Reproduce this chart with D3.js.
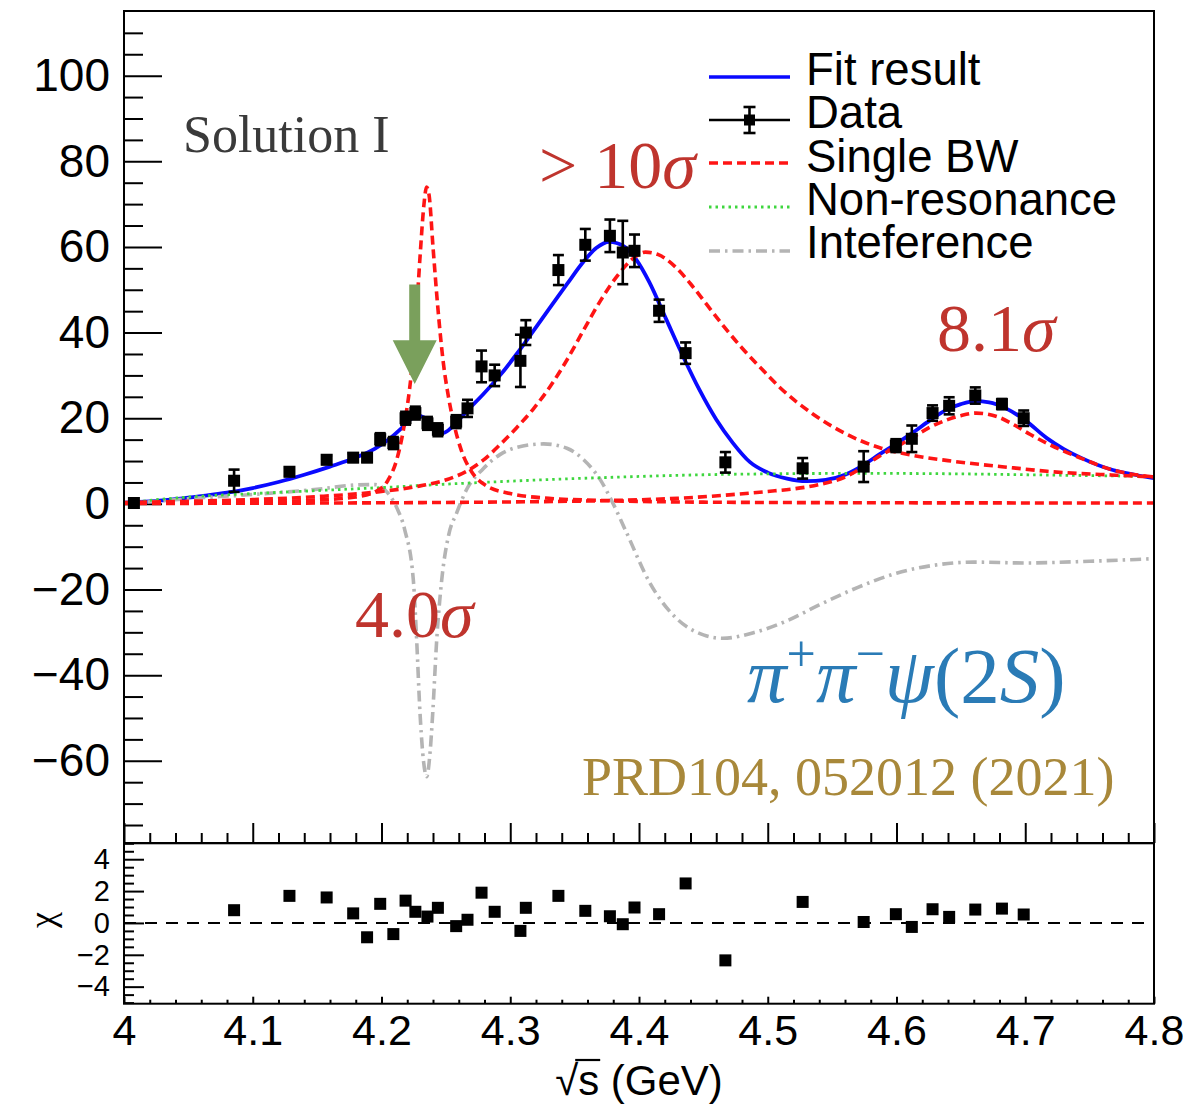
<!DOCTYPE html>
<html>
<head>
<meta charset="utf-8">
<script src="https://cdn.jsdelivr.net/npm/d3@7"></script>
<style>
  html, body { margin: 0; padding: 0; background: #fff; }
  svg { display: block; }
</style>
</head>
<body>
<svg id="chart" width="1183" height="1114"></svg>
<script>
// ---------------- data ----------------
// measured cross section points: energy (GeV), value, error
const sqrtS = [4.0077, 4.0855, 4.1285, 4.1574, 4.1780, 4.1888, 4.1990, 4.2092, 4.2187, 4.2263,
               4.2357, 4.2438, 4.2580, 4.2668, 4.2777, 4.2879, 4.3079, 4.3121, 4.3374, 4.3583,
               4.3774, 4.3874, 4.3965, 4.4156, 4.4362, 4.4671, 4.5271, 4.5745, 4.5995, 4.6119,
               4.6280, 4.6409, 4.6612, 4.6819, 4.6988];
const xsec = [0.2, 5.4, 7.5, 10.3, 10.8, 10.8, 15.1, 14.2, 20.0, 21.2,
              18.8, 17.3, 19.2, 22.3, 32.1, 30.0, 33.4, 40.0, 54.6, 60.5,
              62.6, 58.7, 59.1, 45.1, 35.2, 9.7, 8.3, 8.7, 13.6, 15.2,
              21.2, 22.9, 25.3, 23.3, 20.0];
const xsecErr = [0.3, 2.6, 1.0, 1.0, 1.0, 1.0, 1.4, 1.4, 1.5, 1.5,
                 1.5, 1.5, 1.5, 2.0, 3.7, 2.5, 6.1, 2.9, 3.5, 3.7,
                 3.8, 7.4, 3.8, 2.6, 2.5, 2.4, 2.4, 3.6, 1.5, 3.1,
                 1.8, 2.0, 1.9, 1.2, 1.8];

// fit residuals (chi) for every point after the first
const chiEnergy = sqrtS.slice(1);
const chiValue = [0.8, 1.7, 1.6, 0.6, -0.9, 1.2, -0.7, 1.4, 0.7, 0.4,
                  0.95, -0.2, 0.2, 1.9, 0.7, -0.5, 0.95, 1.7, 0.76, 0.42,
                  -0.08, 0.97, 0.55, 2.48, -2.35, 1.32, 0.06, 0.55, -0.25, 0.86,
                  0.38, 0.84, 0.9, 0.53];

// total fit curve
const fitCurve = [[4.000,0.3],[4.020,0.6],[4.040,1.1],[4.060,1.8],[4.080,2.6],[4.100,3.7],[4.120,5.1],
  [4.140,6.8],[4.160,8.7],[4.180,10.8],[4.195,12.9],[4.205,14.9],[4.215,17.5],[4.222,19.6],[4.228,20.6],
  [4.233,20.2],[4.238,18.6],[4.243,16.9],[4.248,16.6],[4.255,18.0],[4.266,21.6],[4.279,25.6],[4.292,30.0],
  [4.305,35.0],[4.318,40.4],[4.331,45.9],[4.344,51.3],[4.357,56.6],[4.367,59.8],[4.377,61.2],[4.388,60.2],
  [4.398,57.0],[4.408,51.8],[4.421,43.2],[4.434,34.6],[4.447,26.6],[4.460,19.7],[4.473,14.2],[4.486,9.8],
  [4.500,7.3],[4.515,5.9],[4.530,5.3],[4.545,5.6],[4.560,6.8],[4.574,9.0],[4.587,11.6],[4.600,14.1],
  [4.613,16.7],[4.626,19.5],[4.639,22.0],[4.650,23.3],[4.661,24.0],[4.672,23.7],[4.685,22.3],[4.700,19.5],
  [4.717,15.3],[4.730,12.8],[4.743,10.8],[4.768,7.9],[4.785,6.8],[4.800,6.0]];

// single Breit-Wigner components
const bwNarrow = [[4.000,0.2],[4.100,0.5],[4.150,0.9],[4.180,1.6],[4.195,2.8],[4.205,5.5],[4.212,10.5],
  [4.218,19.0],[4.223,30.0],[4.227,44.0],[4.230,58.0],[4.233,70.0],[4.235,74.0],[4.237,72.0],[4.240,60.0],
  [4.244,45.0],[4.248,33.0],[4.252,25.0],[4.256,19.0],[4.262,12.5],[4.270,7.5],[4.280,4.5],[4.300,2.4],
  [4.330,1.3],[4.370,0.8],[4.450,0.4],[4.600,0.25],[4.800,0.2]];
const bwBroad = [[4.000,0.3],[4.050,0.6],[4.100,1.0],[4.150,1.7],[4.200,2.9],[4.230,4.2],[4.253,5.9],
  [4.266,7.6],[4.279,10.2],[4.292,13.8],[4.305,17.8],[4.318,22.2],[4.331,27.4],[4.344,33.6],[4.357,40.6],
  [4.370,47.4],[4.383,53.2],[4.395,57.2],[4.405,58.8],[4.415,58.2],[4.428,55.4],[4.440,51.4],[4.453,46.4],
  [4.466,41.4],[4.480,36.4],[4.495,31.6],[4.510,27.0],[4.535,21.0],[4.561,16.3],[4.587,13.1],[4.613,11.3],
  [4.640,10.1],[4.665,9.2],[4.691,8.4],[4.717,7.6],[4.770,6.7],[4.800,6.3]];
const bwHigh = [[4.000,0.1],[4.100,0.15],[4.200,0.25],[4.300,0.45],[4.380,0.8],[4.430,1.3],[4.470,2.1],
  [4.500,2.9],[4.520,3.5],[4.540,4.5],[4.561,6.4],[4.575,8.8],[4.587,11.2],[4.600,13.3],[4.613,15.6],
  [4.626,17.9],[4.639,19.6],[4.650,20.6],[4.662,21.2],[4.678,20.4],[4.691,18.5],[4.704,16.2],[4.717,14.1],
  [4.743,10.7],[4.768,7.9],[4.800,6.3]];

// non-resonant term
const nonRes = [[4.000,0.0],[4.020,0.8],[4.050,1.6],[4.100,2.4],[4.150,3.1],[4.200,3.8],[4.250,4.6],
  [4.300,5.3],[4.350,5.9],[4.400,6.4],[4.450,6.8],[4.500,7.0],[4.550,7.1],[4.600,7.1],[4.650,7.0],
  [4.700,6.8],[4.750,6.6],[4.800,6.4]];

// interference term
const interf = [[4.000,0.0],[4.050,1.2],[4.100,2.2],[4.150,3.4],[4.180,4.4],[4.195,4.5],[4.205,2.5],
  [4.212,-1.0],[4.218,-6.0],[4.2247,-17.7],[4.2273,-31.7],[4.2299,-48.8],[4.232,-58.1],[4.2351,-63.7],
  [4.2377,-58.1],[4.2398,-48.8],[4.2429,-31.7],[4.2468,-17.7],[4.252,-7.5],[4.2584,-2.1],[4.266,3.3],
  [4.279,8.2],[4.292,11.5],[4.305,13.2],[4.326,14.0],[4.344,13.0],[4.357,10.3],[4.370,5.6],[4.380,0.0],
  [4.390,-6.5],[4.4085,-18.5],[4.4300,-27.0],[4.450,-30.6],[4.465,-31.4],[4.490,-30.0],[4.515,-27.3],
  [4.540,-23.6],[4.570,-19.5],[4.600,-16.2],[4.630,-14.3],[4.660,-13.6],[4.700,-13.8],[4.750,-13.4],
  [4.800,-12.8]];

// axis ticks
const xTickValues = [4.0, 4.1, 4.2, 4.3, 4.4, 4.5, 4.6, 4.7, 4.8];
const xTickLabels = ["4", "4.1", "4.2", "4.3", "4.4", "4.5", "4.6", "4.7", "4.8"];
const yTickValues = [-60, -40, -20, 0, 20, 40, 60, 80, 100];
const chiTickValues = [-4, -2, 0, 2, 4];

const legendLabels = ["Fit result", "Data", "Single BW", "Non-resonance", "Inteference"];

// ---------------- layout ----------------
const plotL = 124, plotR = 1154;
const topT = 11, topB = 843;
const chiT = 843.3, chiB = 1003.7;
const sans = "'Liberation Sans', Arial, Helvetica, sans-serif";
const serif = "'Liberation Serif', 'Times New Roman', serif";

const colFit = "#0a0aff", colBW = "#ff1414", colNR = "#3ed63e", colInt = "#b4b4b4";
const dashBW = "9,5", dashNR = "2.5,4", dashInt = "11,5,2.5,5";

const svg = d3.select("#chart");

const x = d3.scaleLinear().domain([4.0, 4.8]).range([plotL, plotR]);
const y = d3.scaleLinear().domain([-79.2, 115.1]).range([topB, topT]);
const yc = d3.scaleLinear().domain([-5.07, 5.0]).range([chiB, chiT]);

svg.append("defs").append("clipPath").attr("id", "clipTop")
  .append("rect").attr("x", plotL).attr("y", topT).attr("width", plotR - plotL).attr("height", topB - topT);

function styleAxis(g, fontSize) {
  g.select(".domain").remove();
  g.selectAll(".tick line").attr("stroke", "#000").attr("stroke-width", 2);
  g.selectAll(".tick text").attr("fill", "#000")
    .style("font-family", sans).style("font-size", fontSize + "px");
}

// ---------- upper panel axes ----------
const yMinor = d3.range(-75, 115, 5).filter(v => v % 20 !== 0);
svg.append("g").attr("transform", `translate(${plotL},0)`)
  .call(d3.axisLeft(y).tickValues(yMinor).tickSizeInner(-19).tickSizeOuter(0).tickFormat(""))
  .call(g => styleAxis(g, 10));
svg.append("g").attr("transform", `translate(${plotL},0)`)
  .call(d3.axisLeft(y).tickValues(yTickValues).tickSizeInner(-38).tickSizeOuter(0).tickPadding(14))
  .call(g => styleAxis(g, 46));

const xMinor = d3.range(4.02, 4.8, 0.02).filter(v => Math.abs(v * 10 - Math.round(v * 10)) > 1e-6);
svg.append("g").attr("transform", `translate(0,${topB})`)
  .call(d3.axisBottom(x).tickValues(xMinor).tickSizeInner(-10).tickSizeOuter(0).tickFormat(""))
  .call(g => styleAxis(g, 10));
svg.append("g").attr("transform", `translate(0,${topB})`)
  .call(d3.axisBottom(x).tickValues(xTickValues).tickSizeInner(-20).tickSizeOuter(0).tickFormat(""))
  .call(g => styleAxis(g, 10));

// ---------- upper panel curves ----------
const line = d3.line().x(d => x(d[0])).y(d => y(d[1])).curve(d3.curveMonotoneX);
const curves = svg.append("g").attr("clip-path", "url(#clipTop)").attr("fill", "none");

curves.append("path").datum(fitCurve).attr("d", line)
  .attr("stroke", colFit).attr("stroke-width", 3.8);
curves.append("path").datum(interf).attr("d", line)
  .attr("stroke", colInt).attr("stroke-width", 3.6).attr("stroke-dasharray", dashInt);
curves.append("path").datum(nonRes).attr("d", line)
  .attr("stroke", colNR).attr("stroke-width", 2.8).attr("stroke-dasharray", dashNR);
[bwNarrow, bwBroad, bwHigh].forEach(c => {
  curves.append("path").datum(c).attr("d", line)
    .attr("stroke", colBW).attr("stroke-width", 3.6).attr("stroke-dasharray", dashBW);
});

// ---------- data points ----------
const pts = sqrtS.map((s, i) => ({ s, v: xsec[i], e: xsecErr[i] }));
const dataG = svg.append("g");
const cap = 5.5;
pts.forEach(p => {
  const cx = x(p.s), lo = y(p.v - p.e), hi = y(p.v + p.e);
  if (p.e > 0.6) {
    dataG.append("line").attr("x1", cx).attr("x2", cx).attr("y1", lo).attr("y2", hi)
      .attr("stroke", "#000").attr("stroke-width", 2.6);
    [lo, hi].forEach(yy => dataG.append("line").attr("x1", cx - cap).attr("x2", cx + cap)
      .attr("y1", yy).attr("y2", yy).attr("stroke", "#000").attr("stroke-width", 2.6));
  }
  dataG.append("rect").attr("x", cx - 6).attr("y", y(p.v) - 6)
    .attr("width", 12).attr("height", 12).attr("fill", "#000");
});

// ---------- upper panel frame ----------
svg.append("rect").attr("x", plotL).attr("y", topT).attr("width", plotR - plotL).attr("height", topB - topT)
  .attr("fill", "none").attr("stroke", "#000").attr("stroke-width", 2);

// ---------- legend ----------
const legX0 = 709, legX1 = 790, legTextX = 806;
const legLineY = [77, 120, 163, 207, 251];
const legTextY = [85, 128, 172, 215, 258];
const leg = svg.append("g");
const legStyles = [
  { stroke: colFit, w: 3.4, dash: null },
  { stroke: "#000", w: 2.6, dash: null },
  { stroke: colBW, w: 3.4, dash: dashBW },
  { stroke: colNR, w: 2.8, dash: dashNR },
  { stroke: colInt, w: 3.4, dash: dashInt }
];
legendLabels.forEach((lab, i) => {
  const st = legStyles[i];
  const l = leg.append("line").attr("x1", legX0).attr("x2", legX1)
    .attr("y1", legLineY[i]).attr("y2", legLineY[i])
    .attr("stroke", st.stroke).attr("stroke-width", st.w);
  if (st.dash) l.attr("stroke-dasharray", st.dash);
  leg.append("text").attr("x", legTextX).attr("y", legTextY[i])
    .style("font-family", sans).style("font-size", "45.5px").attr("fill", "#000").text(lab);
});
{
  const mx = (legX0 + legX1) / 2, my = legLineY[1];
  leg.append("line").attr("x1", mx).attr("x2", mx).attr("y1", my - 13).attr("y2", my + 13)
    .attr("stroke", "#000").attr("stroke-width", 2.6);
  [my - 13, my + 13].forEach(yy => leg.append("line").attr("x1", mx - 6).attr("x2", mx + 6)
    .attr("y1", yy).attr("y2", yy).attr("stroke", "#000").attr("stroke-width", 2.6));
  leg.append("rect").attr("x", mx - 5.5).attr("y", my - 5.5).attr("width", 11).attr("height", 11).attr("fill", "#000");
}

// ---------- annotations ----------
// arrow pointing at the narrow structure near 4.22 GeV
const arrowAt = { s: 4.2258, top: 51.2, headBase: 38.2, tip: 28.0 };
{
  const ax = x(arrowAt.s), yt = y(arrowAt.top), yb = y(arrowAt.headBase), yp = y(arrowAt.tip);
  const pts2 = [[ax - 5.5, yt], [ax + 5.5, yt], [ax + 5.5, yb], [ax + 22, yb], [ax, yp], [ax - 22, yb], [ax - 5.5, yb]];
  svg.append("polygon").attr("points", pts2.map(p => p.join(",")).join(" ")).attr("fill", "#7aa05c");
}

svg.append("text").attr("x", 183).attr("y", 152).style("font-family", serif).style("font-size", "52px")
  .attr("fill", "#3a3a3a").text("Solution I");

function sigmaLabel(xp, yp, txt) {
  const t = svg.append("text").attr("x", xp).attr("y", yp).style("font-family", serif)
    .style("font-size", "68px").attr("fill", "#bf342d");
  t.append("tspan").text(txt);
  t.append("tspan").style("font-style", "italic").text("σ");
}
sigmaLabel(539, 188, "> 10");
sigmaLabel(937, 351, "8.1");
sigmaLabel(355, 637, "4.0");

{
  const t = svg.append("text").attr("x", 747).attr("y", 702).style("font-family", serif)
    .style("font-size", "79px").attr("fill", "#2a7bb6");
  t.append("tspan").style("font-style", "italic").text("π");
  t.append("tspan").attr("dy", -31).style("font-size", "52px").text("+");
  t.append("tspan").attr("dy", 31).style("font-style", "italic").text("π");
  t.append("tspan").attr("dy", -31).style("font-size", "52px").text("−");
  t.append("tspan").attr("dy", 31).style("font-style", "italic").text("ψ");
  t.append("tspan").text("(2");
  t.append("tspan").style("font-style", "italic").text("S");
  t.append("tspan").text(")");
}

svg.append("text").attr("x", 582).attr("y", 795).style("font-family", serif).style("font-size", "54px")
  .attr("fill", "#a8883a").text("PRD104, 052012 (2021)");

// ---------- lower panel (chi) ----------
const chiMinor = d3.range(-5, 5.01, 0.5).filter(v => Math.abs(v % 2) > 1e-6);
svg.append("g").attr("transform", `translate(${plotL},0)`)
  .call(d3.axisLeft(yc).tickValues(chiMinor).tickSizeInner(-10).tickSizeOuter(0).tickFormat(""))
  .call(g => styleAxis(g, 10));
svg.append("g").attr("transform", `translate(${plotL},0)`)
  .call(d3.axisLeft(yc).tickValues(chiTickValues).tickSizeInner(-20).tickSizeOuter(0).tickPadding(14))
  .call(g => styleAxis(g, 29));

svg.append("g").attr("transform", `translate(0,${chiB})`)
  .call(d3.axisBottom(x).tickValues(xMinor).tickSizeInner(-4).tickSizeOuter(0).tickFormat(""))
  .call(g => styleAxis(g, 10));
svg.append("g").attr("transform", `translate(0,${chiB})`)
  .call(d3.axisBottom(x).tickValues(xTickValues).tickSizeInner(-7).tickSizeOuter(0).tickPadding(11)
    .tickFormat((d, i) => xTickLabels[i]))
  .call(g => styleAxis(g, 43));

svg.append("line").attr("x1", plotL).attr("x2", plotR).attr("y1", yc(0)).attr("y2", yc(0))
  .attr("stroke", "#000").attr("stroke-width", 2).attr("stroke-dasharray", "12,9");

chiEnergy.forEach((s, i) => {
  svg.append("rect").attr("x", x(s) - 6).attr("y", yc(chiValue[i]) - 6)
    .attr("width", 12).attr("height", 12).attr("fill", "#000");
});

svg.append("rect").attr("x", plotL).attr("y", chiT).attr("width", plotR - plotL).attr("height", chiB - chiT)
  .attr("fill", "none").attr("stroke", "#000").attr("stroke-width", 2);

svg.append("text").attr("transform", "translate(54,920) rotate(-90)").attr("text-anchor", "middle")
  .style("font-family", serif).style("font-size", "36px").attr("fill", "#000").text("χ");

// x-axis title with a radical over s
{
  const t = svg.append("text").attr("x", 639).attr("y", 1095).attr("text-anchor", "middle")
    .style("font-family", sans).style("font-size", "42px").attr("fill", "#000").text("√s (GeV)");
  const n = t.node();
  const r0 = n.getExtentOfChar(0), r1 = n.getExtentOfChar(1);
  svg.append("line").attr("x1", r0.x + r0.width - 3).attr("x2", r1.x + r1.width + 1)
    .attr("y1", r0.y + 3).attr("y2", r0.y + 3).attr("stroke", "#000").attr("stroke-width", 2.2);
}
</script>
</body>
</html>
